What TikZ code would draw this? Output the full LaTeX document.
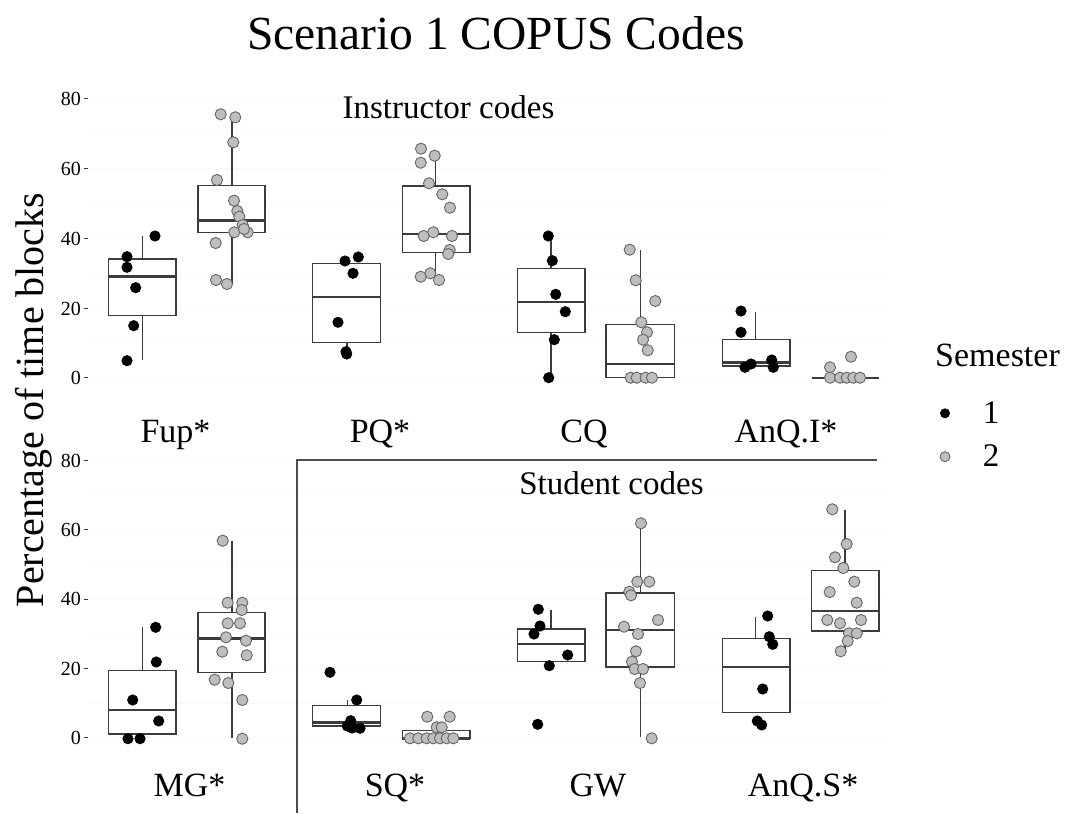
\documentclass[tikz,border=0pt]{standalone}
\usepackage{fontspec}
\setmainfont{Liberation Serif}
\definecolor{ptgray}{RGB}{190,190,190}
\definecolor{lncol}{RGB}{60,60,60}
\tikzset{
  boxl/.style={draw=lncol, line width=1.4pt, fill=white},
  medl/.style={draw=lncol, line width=2.4pt},
  whl/.style={draw=lncol, line width=1.4pt},
  sa/.style={fill=black},
  sb/.style={fill=ptgray, draw=black!60, line width=0.9pt},
  gridl/.style={draw=black!2.5, line width=0.8pt},
  ticklab/.style={anchor=base east, inner sep=0pt, font=\fontsize{20}{22}\selectfont},
  catlab/.style={anchor=base, inner sep=0pt, font=\fontsize{34}{36}\selectfont},
}
\newcommand{\MyBox}[5]{\draw[boxl] (#1,#3) rectangle (#2,#4); \draw[medl] (#1,#5) -- (#2,#5);}
\newcommand{\MyWh}[3]{\draw[whl] (#1,#2) -- (#1,#3);}
\begin{document}
\begin{tikzpicture}[x=1pt,y=-1pt]
\useasboundingbox (0,0) rectangle (1067,813);
\fill[white] (0,0) rectangle (1067,813);

% faint grid lines
\foreach \v in {0,10,...,80} {
  \draw[gridl] (90,{377.7-3.485*\v}) -- (882,{377.7-3.485*\v});
  \draw[gridl] (90,{737.7-3.47*\v}) -- (882,{737.7-3.47*\v});
}

% title
\node[anchor=base, inner sep=0pt, font=\fontsize{47.5}{50}\selectfont] (title) at (496,50) {Scenario 1 COPUS Codes};
% y label
\node[rotate=90, anchor=base, inner sep=0pt, font=\fontsize{40}{42}\selectfont] (ylab) at (43,400) {Percentage of time blocks};

% y ticks
\foreach \v/\n in {80/t8,60/t6,40/t4,20/t2,0/t0} {
  \node[ticklab] (top\n) at (81,{377.7-3.485*\v+7}) {\v};
  \draw[lncol, line width=0.8pt] (84,{377.7-3.485*\v}) -- (88,{377.7-3.485*\v});
  \node[ticklab] (bot\n) at (81,{737.7-3.47*\v+7}) {\v};
  \draw[lncol, line width=0.8pt] (84,{737.7-3.47*\v}) -- (88,{737.7-3.47*\v});
}

% panel labels
\node[anchor=base, inner sep=0pt, font=\fontsize{33}{35}\selectfont] (instr) at (448.5,119) {Instructor codes};
\node[anchor=base, inner sep=0pt, font=\fontsize{33}{35}\selectfont] (stud) at (611.5,494) {Student codes};

% separator lines
\coordinate (c0) at (297,460);
\coordinate (c1) at (877,460);
\coordinate (c2) at (297,813);
\draw[black!70, line width=1.3pt] (c1) -- (c0) -- (c2);

% ===== whiskers =====
% top panel
\MyWh{142.7}{259}{236}   \MyWh{142.7}{315.7}{360}
\MyWh{232}{185.3}{114}   \MyWh{232}{232.3}{284}
\MyWh{347}{263.3}{257}   \MyWh{347}{342.3}{354}
\MyWh{435.7}{186}{156}   \MyWh{435.7}{252.3}{277}
\MyWh{551}{268.3}{236}   \MyWh{551}{332.3}{377.7}
\MyWh{640.3}{324.7}{250}
\MyWh{755.7}{339.3}{311.7}
% bottom panel
\MyWh{142.7}{670.7}{626.7}
\MyWh{232}{612.7}{541}   \MyWh{232}{672.7}{737.7}
\MyWh{347.3}{705.3}{700}
\MyWh{551}{629}{610}
\MyWh{640.3}{593}{523.3} \MyWh{640.3}{667}{736.7}
\MyWh{755.7}{638.7}{617.3}
\MyWh{845}{570.7}{510}   \MyWh{845}{631}{651.3}

% ===== boxes =====
\MyBox{108.3}{176}{259}{315.7}{276.3}
\MyBox{198}{265}{185.3}{232.3}{220.3}
\MyBox{312.7}{380.7}{263.3}{342.3}{297}
\MyBox{402.3}{470}{186}{252.3}{233.7}
\MyBox{517.3}{585}{268.3}{332.3}{301.7}
\MyBox{606}{674.3}{324.7}{377.7}{364}
\MyBox{722.3}{790}{339.3}{366}{362.3}
\draw[medl] (811.7,377.7) -- (879,377.7);

\MyBox{108.3}{176}{670.7}{734}{710}
\MyBox{198}{265}{612.7}{672.7}{638.3}
\MyBox{312.7}{380.7}{705.3}{726}{722.3}
\MyBox{402.3}{470}{730.3}{738.3}{738.3}
\MyBox{517.3}{585}{629}{661.7}{644}
\MyBox{606}{674.3}{593}{667}{630}
\MyBox{722.3}{790}{638.7}{712.7}{666.7}
\MyBox{811.7}{879}{570.7}{631}{611}

% ===== semester 1 points =====
\foreach \x/\y in {155/236,127/256.7,127/267.3,135.7/287.7,133.7/325.7,127/360.7,
  345/261,358.3/257,353/273.3,338/322.3,346/351.7,346.7/354,
  548.3/236,552.3/260.7,555.7/294.3,565.3/311.7,554.3/339.7,548.7/377.7,
  741/311,741/332.3,751/364,745/367.3,771.7/360,773.3/367.3,
  155.7/627.3,156.3/662,132.7/700,158.7/721,128/738.7,140/738.7,
  330/672.3,356.7/700,350.7/720.7,347.3/726,360/728.3,352/728,
  538.3/609.3,540/626,534/634,567.7/655,549.3/665.7,537.7/724.3,
  767.7/616,769.3/636.7,772.7/644.3,762.7/689,757.3/721,761.7/725}
  \fill[sa] (\x,\y) circle (5.6pt);

% ===== semester 2 points =====
\foreach \x/\y in {220.7/114.3,235.3/117.3,233.3/142.3,217/180,234/200.7,237.3/211,239.3/216.7,242.7/225,234.3/232.3,247.7/232.3,244/229,215.7/243,216/280,227/284,
  421/148.7,434.7/155.7,420.7/162.7,429/183.3,442.3/194.3,450/207.7,423.7/236,433.3/232.3,452/236,449.7/250,448.3/254,430.3/273.3,420.7/276.7,439/280,
  629.7/249.7,635.7/280.3,655.3/301,641.3/322.3,647/332.3,643/339.7,647.7/350.3,630.7/377.7,636.7/377.7,645.7/377.7,652/377.7,
  851/356.7,830/367.3,830/377.7,840/377.7,846.7/377.7,853.3/377.7,860/377.7,
  222.7/540.7,227.7/602.7,242.3/602.7,241.7/610,227.7/623.3,240/623.3,226/637.3,246/640.7,222.3/651.7,246.7/655.3,214.7/679.7,228.3/683,242.3/700,242.3/738.7,
  427.3/716.7,449.7/716.7,436.7/727.3,441.7/727.3,410/738.3,418.3/738.3,426.7/738.3,433.3/738.3,440/738.3,446.7/738.3,453.3/738.3,
  641/523.3,637.3/581.7,649.3/581.7,629.3/591.7,631/595.3,658/620,624/626.7,638/634,636/651.3,632/661.7,634.7/669,643/669,640/683,651.7/738.3,
  832.3/509.3,846.7/544,835/557.3,843.3/568,854.3/581.7,829.7/592,856.7/602.7,827.3/620,840/623.3,861/620,849/633.3,856.7/633.3,847.7/641,840.7/651.3}
  \filldraw[sb] (\x,\y) circle (5.6pt);

% category labels
\node[catlab] (fup) at (175.5,442) {Fup*};
\node[catlab] (pq) at (380,442) {PQ*};
\node[catlab] (cq) at (584,442) {CQ};
\node[catlab] (anqi) at (786,442) {AnQ.I*};
\node[catlab] (mg) at (189.5,796) {MG*};
\node[catlab] (sq) at (395,796) {SQ*};
\node[catlab] (gw) at (598,796) {GW};
\node[catlab] (anqs) at (803,796) {AnQ.S*};

% legend
\node[anchor=base west, inner sep=0pt, font=\fontsize{34}{36}\selectfont] (legt) at (935,366.7) {Semester};
\fill[sa] (945,413.3) circle (5pt);
\filldraw[sb] (945,456.7) circle (5pt);
\node[anchor=base, inner sep=0pt, font=\fontsize{33}{35}\selectfont] (leg1) at (991,423) {1};
\node[anchor=base, inner sep=0pt, font=\fontsize{33}{35}\selectfont] (leg2) at (991,466.7) {2};
\end{tikzpicture}
\end{document}
